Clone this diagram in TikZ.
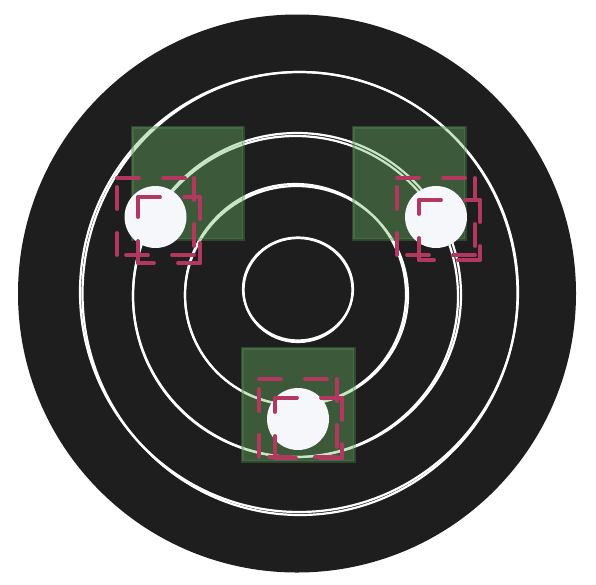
\documentclass[tikz,border=0pt]{standalone}
\definecolor{bgc}{HTML}{1E1E1E}
\definecolor{sqfill}{RGB}{111,188,104}
\definecolor{sqedge}{RGB}{80,140,80}
\definecolor{dotc}{HTML}{F5F7FA}
\definecolor{redc}{RGB}{178,56,96}
\newcommand{\dashsq}[4]{%
  \draw[rdash] (#1,#2) -- (#3,#2);
  \draw[rdash] (#3,#2) -- (#3,#4);
  \draw[rdash] (#3,#4) -- (#1,#4);
  \draw[rdash] (#1,#4) -- (#1,#2);}
\begin{document}
\begin{tikzpicture}[x=1pt,y=-1pt,
  ring/.style={draw=white, line width=2.2pt},
  sq/.style={fill=sqfill, fill opacity=0.38, draw=sqedge, draw opacity=0.38, line width=3pt},
  dotn/.style={circle, fill=dotc, minimum size=62pt, inner sep=0pt},
  rdash/.style={draw=redc, line width=3.8pt, line cap=round, dash pattern=on 22pt off 24pt}]
\useasboundingbox[fill=white] (0,0) rectangle (596,584);
% black disc
\fill[bgc] (297,293.5) ellipse [x radius=279pt, y radius=279pt];
% rings
\draw[ring] (299,292) ellipse [x radius=219pt, y radius=220pt];
\draw[ring] (300,293.5) ellipse [x radius=217.5pt, y radius=221.5pt];
\draw[ring] (297,295) ellipse [x radius=164pt, y radius=162pt];
\draw[ring] (295.5,296.5) ellipse [x radius=162.5pt, y radius=160.5pt];
\draw[ring] (295.5,294.5) ellipse [x radius=110.5pt, y radius=110.5pt];
\draw[ring] (296.5,295.5) ellipse [x radius=111.5pt, y radius=109.5pt];
\draw[ring] (298,289) ellipse [x radius=55pt, y radius=51.5pt];
\draw[ring] (298,290) ellipse [x radius=54.5pt, y radius=52pt];
% green squares
\draw[sq] (132,127) rectangle (243,239);
\draw[sq] (353,127) rectangle (465,239);
\draw[sq] (242,348) rectangle (354,461);
% white dots
\node[dotn] (d1) at (155.5,217) {};
\node[dotn] (d2) at (436,217) {};
\node[dotn] (d3) at (298,419) {};
% red dashed squares
\dashsq{117}{178}{194}{255}
\dashsq{138}{197}{200}{263}
\dashsq{397}{178}{475}{255}
\dashsq{419}{200}{480}{260}
\dashsq{259}{379}{337}{457}
\dashsq{275}{398}{342}{458}
\end{tikzpicture}
\end{document}
